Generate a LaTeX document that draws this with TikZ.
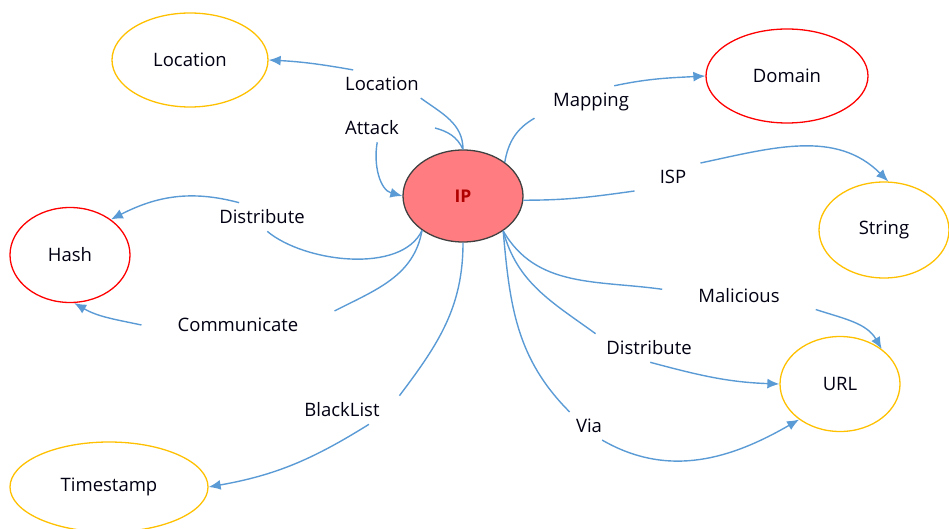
\documentclass[tikz,border=0pt]{standalone}
\usepackage{fontspec}
\setmainfont{Open Sans}
\usepackage{tikz}
\usetikzlibrary{shapes.geometric,arrows.meta}
\definecolor{relblue}{HTML}{5B9BD5}
\definecolor{entgold}{HTML}{FFC000}
\definecolor{entred}{HTML}{FF0000}
\definecolor{ipfill}{HTML}{FF7C80}
\definecolor{iptext}{HTML}{B00000}

\begin{document}
\begin{tikzpicture}[x=1pt,y=1pt,
    every node/.style={font=\fontsize{18.5}{22}\selectfont,text=black!93!blue},
    ent/.style={ellipse,draw,line width=1.3pt,inner sep=0pt},
    gold/.style={ent,draw=entgold},
    hot/.style={ent,draw=entred},
    lab/.style={inner xsep=36pt,inner ysep=7pt},
    rel/.style={draw=relblue,line width=1.4pt,-{Latex[length=12pt,width=10pt]}}]
  \useasboundingbox (0,0) rectangle (949,-529);

  % entities
  \node[ent,fill=ipfill,draw=black!75,minimum width=120pt,minimum height=92pt,
    font=\fontsize{17.5}{20}\selectfont\bfseries,text=iptext](ip) at (463,-196) {IP};
  \node[gold,minimum width=156pt,minimum height=94pt](loc) at (190,-60) {Location};
  \node[hot,minimum width=162pt,minimum height=94pt](dom) at (787,-76) {Domain};
  \node[gold,minimum width=130pt,minimum height=96pt](str) at (884,-230) {String};
  \node[hot,minimum width=120pt,minimum height=95pt](hash) at (70,-255) {Hash};
  \node[gold,minimum width=198pt,minimum height=90pt](ts) at (109,-487) {Timestamp};
  \node[gold,minimum width=120pt,minimum height=95pt](url) at (840,-384) {URL};

  % relation labels
  \node[lab](lloc) at (382,-84) {Location};
  \node[lab](latk) at (372,-128) {Attack};
  \node[lab](lmap) at (591,-102) {Mapping};
  \node[lab](lisp) at (673,-177) {ISP};
  \node[lab](ldisa) at (262,-217) {Distribute};
  \node[lab](lcom) at (238,-325) {Communicate};
  \node[lab](lbl) at (342,-410) {BlackList};
  \node[lab](lmal) at (739,-296) {Malicious};
  \node[lab](ldisb) at (649,-348) {Distribute};
  \node[lab](lvia) at (589,-426) {Via};

  % relations
  \draw[rel] (ip.north) to[out=90,in=-36] (lloc.-20)
    (lloc.154) to[out=170,in=-3] (loc.east);
  \draw[rel] (ip.north) to[out=115,in=-15] (latk.east)
    (latk.-70) to[out=-100,in=165] (ip.west);
  \draw[rel] (ip.39) to[out=80,in=-150] (lmap.-164)
    (lmap.35) to[out=12,in=183] (dom.west);
  \draw[rel] (ip.-4) to[out=0,in=-172] (lisp.-160)
    (lisp.27) to[out=12,in=135] (str.85);
  \draw[rel] (ip.-140) to[out=-115,in=-40,looseness=0.8] (ldisa.-70)
    (ldisa.148) to[out=165,in=27] (hash.41);
  \draw[rel] (ip.-140) to[out=-100,in=27] (lcom.north east)
    (lcom.west) to[out=168,in=-30] (hash.-85);
  \draw[rel] (ip.south) to[out=-90,in=53] (lbl.14)
    (lbl.-28) to[out=-148,in=10] (ts.east);
  \draw[rel] (ip.-41) to[out=-60,in=172] (lmal.175)
    (lmal.-10) to[out=-18,in=120] (url.40);
  \draw[rel] (ip.-41) to[out=-75,in=144] (ldisb.165)
    (ldisb.-85) to[out=-15,in=178] (url.west);
  \draw[rel] (ip.-41) to[out=-85,in=135] (lvia.144)
    (lvia.-47) to[out=-30,in=-150] (url.-139);
\end{tikzpicture}
\end{document}
